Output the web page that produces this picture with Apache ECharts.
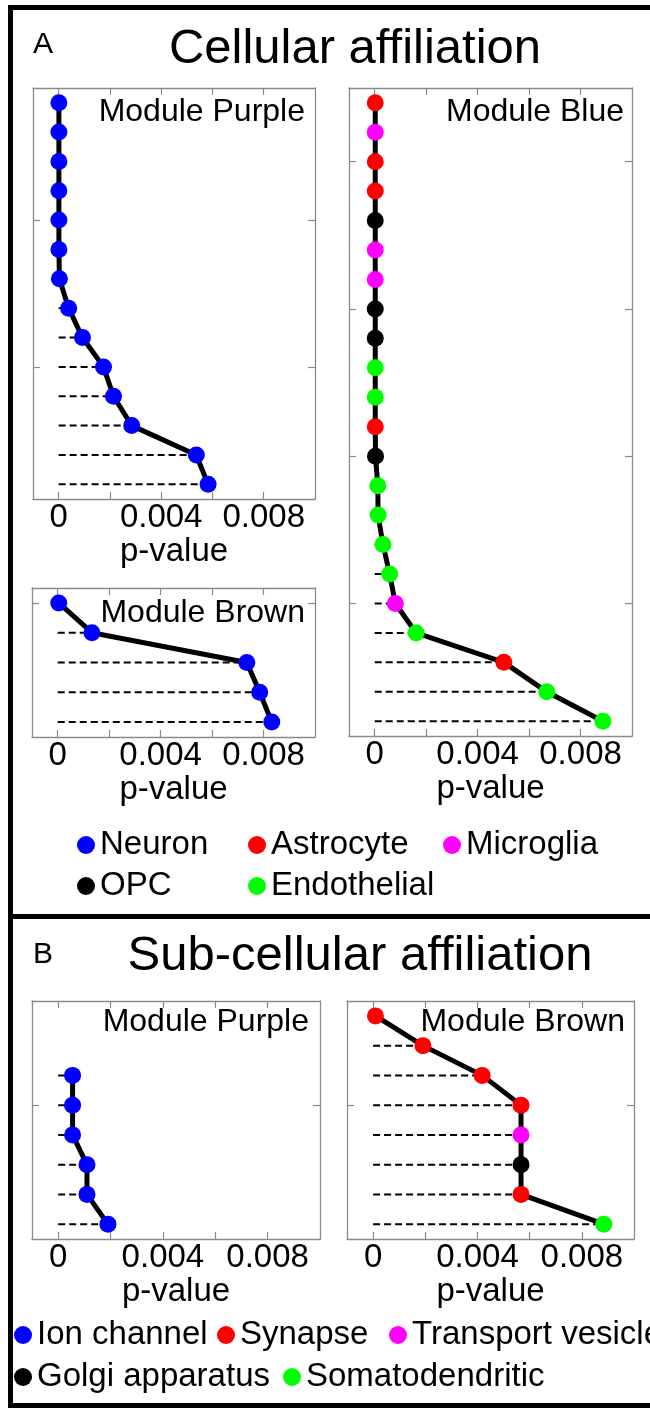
<!DOCTYPE html>
<html><head><meta charset="utf-8">
<script src="https://cdn.jsdelivr.net/npm/echarts@6/dist/echarts.min.js"></script>
<style>html,body{margin:0;padding:0;background:#fff}#c{width:650px;height:1409px}</style>
</head><body><div id="c"></div>
<script>
const FONT = '"Liberation Sans", Arial, Helvetica, sans-serif';

// ---------- data ----------
const cellTypes = ['Neuron', 'Astrocyte', 'Microglia', 'OPC', 'Endothelial'];
const subTypes = ['Ion channel', 'Synapse', 'Transport vesicle', 'Golgi apparatus', 'Somatodendritic'];
const typeColors = ['#0000ff', '#ff0000', '#ff00ff', '#000000', '#00ff00'];

const xTicks = [0, 0.002, 0.004, 0.006, 0.008];
const xTickLabels = [0, 0.004, 0.008];

// values listed from rank 1 (bottom) to top
const aPurpleP = [0.00583, 0.00537, 0.00285, 0.00214, 0.00175, 0.00093, 0.00039, 0.00003, 0.00001, 0.00001, 0.00001, 0.00001, 0.00001, 0.00001];
const aPurpleType = ['Neuron', 'Neuron', 'Neuron', 'Neuron', 'Neuron', 'Neuron', 'Neuron', 'Neuron', 'Neuron', 'Neuron', 'Neuron', 'Neuron', 'Neuron', 'Neuron'];

const aBlueP = [0.00887, 0.00669, 0.00502, 0.00161, 0.00080, 0.00058, 0.00032, 0.00013, 0.00012, 0.00003, 0.00002, 0.00002, 0.00002, 0.00002, 0.00002, 0.00002, 0.00002, 0.00002, 0.00002, 0.00002, 0.00002, 0.00002];
const aBlueType = ['Endothelial', 'Endothelial', 'Astrocyte', 'Endothelial', 'Microglia', 'Endothelial', 'Endothelial', 'Endothelial', 'Endothelial', 'OPC', 'Astrocyte', 'Endothelial', 'Endothelial', 'OPC', 'OPC', 'Microglia', 'Microglia', 'OPC', 'Astrocyte', 'Astrocyte', 'Microglia', 'Astrocyte'];

const aBrownP = [0.00832, 0.00785, 0.00735, 0.00133, 0.00004];
const aBrownType = ['Neuron', 'Neuron', 'Neuron', 'Neuron', 'Neuron'];

const bPurpleP = [0.0019, 0.0011, 0.0011, 0.00055, 0.00055, 0.00055];
const bPurpleType = ['Ion channel', 'Ion channel', 'Ion channel', 'Ion channel', 'Ion channel', 'Ion channel'];

const bBrownP = [0.00884, 0.00567, 0.00567, 0.00567, 0.00567, 0.00418, 0.00191, 0.00009];
const bBrownType = ['Somatodendritic', 'Synapse', 'Golgi apparatus', 'Transport vesicle', 'Synapse', 'Synapse', 'Synapse', 'Synapse'];

// ---------- layout ----------
const panels = [
  { name: 'Module Purple', p: aPurpleP, t: aPurpleType, types: cellTypes, slots: 14, yTicks: [5, 10],
    grid: { left: 33, top: 88, width: 282, height: 411 }, lab: [305, 112.5] },
  { name: 'Module Blue', p: aBlueP, t: aBlueType, types: cellTypes, slots: 22, yTicks: [5, 10, 15, 20],
    grid: { left: 349, top: 88, width: 283, height: 648 }, lab: [624, 112] },
  { name: 'Module Brown', p: aBrownP, t: aBrownType, types: cellTypes, slots: 5, yTicks: [5],
    grid: { left: 32, top: 588, width: 283, height: 149 }, lab: [305, 613] },
  { name: 'Module Purple', p: bPurpleP, t: bPurpleType, types: subTypes, slots: 8, yTicks: [5],
    grid: { left: 32, top: 1001, width: 288, height: 238 }, lab: [309, 1022.5] },
  { name: 'Module Brown', p: bBrownP, t: bBrownType, types: subTypes, slots: 8, yTicks: [5],
    grid: { left: 347, top: 1001, width: 287, height: 238 }, lab: [625, 1022.5] }
];

const legendPosA = [[77, 845], [248, 845], [443, 845], [77, 886], [248, 886]];
const legendPosB = [[14, 1335], [217, 1335], [389, 1335], [14, 1377], [283, 1377]];

const FRAME = '#8a8a8a';
const grids = [], xAxes = [], yAxes = [], series = [], graphics = [], legends = [];

panels.forEach((pn, i) => {
  grids.push(Object.assign({ outerBoundsMode: 'none', containLabel: false }, pn.grid));
  const xBase = {
    type: 'value', gridIndex: i, min: -0.001, max: 0.01,
    axisLine: { show: true, onZero: false, lineStyle: { color: FRAME, width: 1.3 } },
    axisTick: { show: true, inside: true, length: 7, customValues: xTicks, lineStyle: { color: FRAME, width: 1.2 } },
    splitLine: { show: false }
  };
  xAxes.push(Object.assign({}, xBase, {
    position: 'bottom',
    axisLabel: { show: true, customValues: xTickLabels, formatter: v => String(v), fontSize: 33, fontFamily: FONT, color: '#000', margin: 2 },
    name: 'p-value', nameLocation: 'middle', nameGap: 36, nameMoveOverlap: false,
    nameTextStyle: { fontSize: 33, fontFamily: FONT, color: '#000' }
  }));
  xAxes.push(Object.assign({}, xBase, { position: 'top', axisLabel: { show: false } }));
  const yBase = {
    type: 'value', gridIndex: i, min: 0.5, max: pn.slots + 0.5,
    axisLine: { show: true, onZero: false, lineStyle: { color: FRAME, width: 1.3 } },
    axisTick: { show: true, inside: true, length: 7, customValues: pn.yTicks, lineStyle: { color: FRAME, width: 1.2 } },
    axisLabel: { show: false }, splitLine: { show: false }
  };
  yAxes.push(Object.assign({}, yBase, { position: 'left' }));
  yAxes.push(Object.assign({}, yBase, { position: 'right' }));

  const pts = pn.p.map((v, k) => [v, k + 1]);
  series.push({
    type: 'custom', xAxisIndex: 2 * i, yAxisIndex: 2 * i, z: 2, silent: true,
    renderItem: (params, api) => {
      const a = api.coord([0, api.value(1)]);
      const b = api.coord([api.value(0), api.value(1)]);
      return { type: 'line', shape: { x1: a[0], y1: a[1], x2: b[0], y2: b[1] },
        style: { stroke: '#000', lineWidth: 2, lineDash: [7, 4] } };
    },
    data: pts
  });
  series.push({
    type: 'line', xAxisIndex: 2 * i, yAxisIndex: 2 * i, z: 3, symbol: 'none', silent: true,
    lineStyle: { color: '#000', width: 5 }, data: pts
  });
  pn.types.forEach((tp, ci) => {
    const d = pts.filter((q, k) => pn.t[k] === tp);
    if (!d.length) return;
    series.push({
      type: 'scatter', name: tp, xAxisIndex: 2 * i, yAxisIndex: 2 * i, z: 4,
      symbol: 'circle', symbolSize: 17, itemStyle: { color: typeColors[ci], opacity: 1 }, data: d
    });
  });
  graphics.push({ type: 'text', x: pn.lab[0], y: pn.lab[1], z: 10,
    style: { text: pn.name, fontSize: 32, fontFamily: FONT, fill: '#000', align: 'right', verticalAlign: 'middle' } });
});

function addLegend(types, pos) {
  types.forEach((tp, k) => {
    legends.push({
      data: [tp], left: pos[k][0], top: pos[k][1] - 16.5, padding: 0, itemGap: 0,
      icon: 'circle', itemWidth: 18, itemHeight: 18, selectedMode: false,
      textStyle: { fontSize: 33, fontFamily: FONT, color: '#000' }
    });
  });
}
addLegend(cellTypes, legendPosA);
addLegend(subTypes, legendPosB);

// outer frame and panel titles
graphics.push({ type: 'rect', shape: { x: 10.5, y: 7.5, width: 700, height: 1398 }, style: { fill: 'none', stroke: '#000', lineWidth: 5 }, z: 20 });
graphics.push({ type: 'line', shape: { x1: 10, y1: 916.5, x2: 700, y2: 916.5 }, style: { stroke: '#000', lineWidth: 5 }, z: 20 });
graphics.push({ type: 'text', x: 33, y: 45, style: { text: 'A', fontSize: 30, fontFamily: FONT, fill: '#000', align: 'left', verticalAlign: 'middle' } });
graphics.push({ type: 'text', x: 355, y: 49, style: { text: 'Cellular affiliation', fontSize: 49, fontFamily: FONT, fill: '#000', align: 'center', verticalAlign: 'middle' } });
graphics.push({ type: 'text', x: 33, y: 955, style: { text: 'B', fontSize: 30, fontFamily: FONT, fill: '#000', align: 'left', verticalAlign: 'middle' } });
graphics.push({ type: 'text', x: 360, y: 956, style: { text: 'Sub-cellular affiliation', fontSize: 49, fontFamily: FONT, fill: '#000', align: 'center', verticalAlign: 'middle' } });

const chart = echarts.init(document.getElementById('c'), null, { renderer: 'canvas' });
chart.setOption({
  animation: false,
  backgroundColor: '#fff',
  grid: grids, xAxis: xAxes, yAxis: yAxes, series: series,
  legend: legends, graphic: graphics
});
</script></body></html>
